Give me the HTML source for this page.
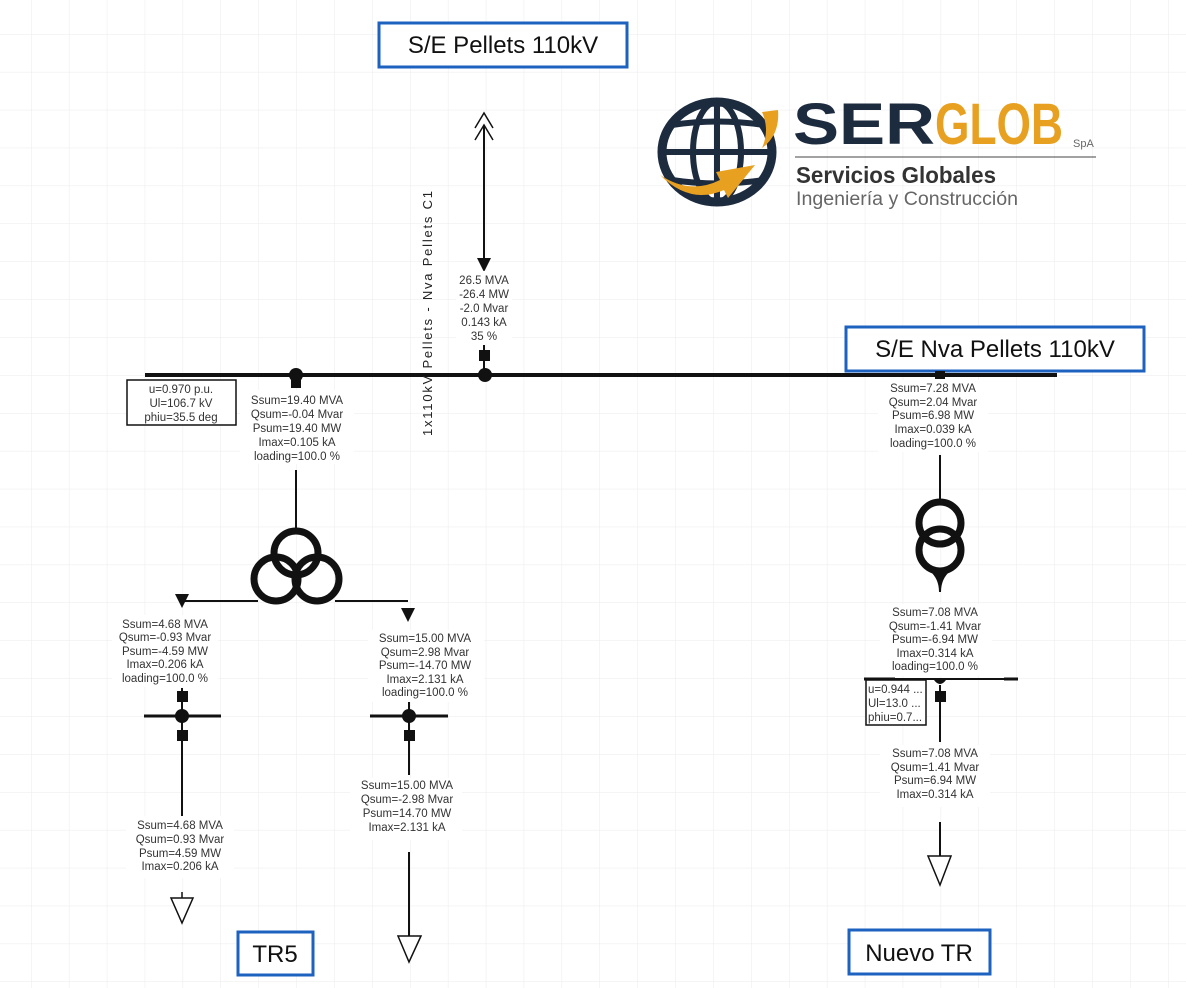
<!DOCTYPE html>
<html><head><meta charset="utf-8"><style>
html,body{margin:0;padding:0;background:#fff;}
svg{display:block;font-family:"Liberation Sans",sans-serif;}
.t{font-size:11.5px;fill:#333;text-anchor:middle;}
.lb{font-size:24px;fill:#111;text-anchor:middle;}
</style></head><body>
<svg width="1186" height="988" viewBox="0 0 1186 988" xmlns="http://www.w3.org/2000/svg">
<defs>
<pattern id="g" x="31" y="34" width="37.9" height="37.9" patternUnits="userSpaceOnUse">
<path d="M0 0V37.9M0 0H37.9" stroke="#ebebeb" stroke-width="1" fill="none"/>
</pattern>
</defs>
<rect width="1186" height="988" fill="url(#g)"/>

<!-- title boxes -->
<rect x="379" y="23" width="248" height="44" fill="#fff" stroke="#1e62c0" stroke-width="3"/>
<text x="503" y="53" class="lb">S/E Pellets 110kV</text>
<rect x="846" y="327" width="298" height="44" fill="#fff" stroke="#1e62c0" stroke-width="3"/>
<text x="995" y="357" class="lb">S/E Nva Pellets 110kV</text>
<rect x="238" y="932" width="75" height="43" fill="#fff" stroke="#1e62c0" stroke-width="3"/>
<text x="275" y="962" class="lb">TR5</text>
<rect x="849" y="930" width="141" height="44" fill="#fff" stroke="#1e62c0" stroke-width="3"/>
<text x="919" y="961" class="lb">Nuevo TR</text>

<!-- logo -->
<g>
<ellipse cx="717" cy="152" rx="55" ry="50" fill="none" stroke="#1d2b3f" stroke-width="9"/>
<ellipse cx="717" cy="152" rx="24" ry="50" fill="none" stroke="#1d2b3f" stroke-width="6"/>
<line x1="717" y1="102" x2="717" y2="202" stroke="#1d2b3f" stroke-width="6"/>
<line x1="662" y1="152" x2="772" y2="152" stroke="#1d2b3f" stroke-width="6"/>
<path d="M672 125 Q717 118 764 125 M672 180 Q717 187 764 180" fill="none" stroke="#1d2b3f" stroke-width="6"/>
<path d="M660 175 Q690 195 720 180 L716 172 L755 165 L728 198 L724 190 Q690 205 660 175Z" fill="#e8a020"/>
<path d="M762 112 L778 110 Q780 135 762 148 Q770 130 762 112Z" fill="#e8a020"/>
</g>
<text x="793" y="144" font-size="58" font-weight="bold" fill="#1d2b3f" textLength="142" lengthAdjust="spacingAndGlyphs">SER</text>
<text x="935" y="144" font-size="58" font-weight="bold" fill="#e8a020" textLength="128" lengthAdjust="spacingAndGlyphs">GLOB</text>
<text x="1073" y="147" font-size="11" fill="#666">SpA</text>
<line x1="795" y1="157" x2="1096" y2="157" stroke="#444" stroke-width="1"/>
<text x="796" y="183" font-size="23" font-weight="bold" fill="#333" textLength="200" lengthAdjust="spacingAndGlyphs">Servicios Globales</text>
<text x="796" y="205" font-size="19" fill="#666" textLength="222" lengthAdjust="spacingAndGlyphs">Ingeniería y Construcción</text>

<!-- top incoming line -->
<path d="M475 128 L484 113 L493 128 M475 140 L484 125 L493 140" fill="none" stroke="#111" stroke-width="1.5"/>
<line x1="484" y1="125" x2="484" y2="260" stroke="#111" stroke-width="2"/>
<path d="M477 258 L491 258 L484 272Z" fill="#111"/>
<rect x="456" y="271" width="56" height="72" fill="#fff"/>
<text class="t" x="484" y="284">26.5 MVA</text>
<text class="t" x="484" y="298">-26.4 MW</text>
<text class="t" x="484" y="312">-2.0 Mvar</text>
<text class="t" x="484" y="326">0.143 kA</text>
<text class="t" x="484" y="340">35 %</text>
<line x1="484" y1="345" x2="484" y2="375" stroke="#111" stroke-width="2"/>
<rect x="479" y="350" width="11" height="11" fill="#111"/>

<!-- main busbar -->
<line x1="145" y1="375" x2="1057" y2="375" stroke="#111" stroke-width="4"/>
<text transform="translate(432,436) rotate(-90)" font-size="13" fill="#222" textLength="245" lengthAdjust="spacing">1x110kV  Pellets  -  Nva  Pellets  C1</text>
<circle cx="485" cy="375" r="7" fill="#111"/>
<circle cx="296" cy="375" r="7" fill="#111"/>
<rect x="291" y="380" width="10" height="8" fill="#111"/>
<rect x="127" y="380" width="109" height="45" fill="#fff" stroke="#111" stroke-width="1.5"/>
<text class="t" x="181" y="393">u=0.970 p.u.</text>
<text class="t" x="181" y="407">Ul=106.7 kV</text>
<text class="t" x="181" y="421">phiu=35.5 deg</text>
<rect x="240" y="390" width="114" height="74" fill="#fff"/>
<text class="t" x="297" y="404">Ssum=19.40 MVA</text>
<text class="t" x="297" y="418">Qsum=-0.04 Mvar</text>
<text class="t" x="297" y="432">Psum=19.40 MW</text>
<text class="t" x="297" y="446">Imax=0.105 kA</text>
<text class="t" x="297" y="460">loading=100.0 %</text>
<line x1="296" y1="470" x2="296" y2="530" stroke="#111" stroke-width="2"/>

<!-- 3-winding transformer -->
<g fill="none" stroke="#111" stroke-width="7">
<circle cx="296" cy="553" r="22"/>
<circle cx="276" cy="579" r="22"/>
<circle cx="317" cy="579" r="22"/>
</g>
<path d="M258 601 H182 M335 601 H408" fill="none" stroke="#111" stroke-width="2"/>
<path d="M175 594 L189 594 L182 608Z" fill="#111"/>
<path d="M401 608 L415 608 L408 622Z" fill="#111"/>

<!-- left branch -->
<rect x="112" y="615" width="106" height="72" fill="#fff"/>
<text class="t" x="165" y="628">Ssum=4.68 MVA</text>
<text class="t" x="165" y="641">Qsum=-0.93 Mvar</text>
<text class="t" x="165" y="655">Psum=-4.59 MW</text>
<text class="t" x="165" y="668">Imax=0.206 kA</text>
<text class="t" x="165" y="682">loading=100.0 %</text>
<line x1="182" y1="688" x2="182" y2="818" stroke="#111" stroke-width="2"/>
<rect x="177" y="691" width="11" height="11" fill="#111"/>
<line x1="144" y1="716" x2="221" y2="716" stroke="#111" stroke-width="3"/>
<circle cx="182" cy="716" r="7" fill="#111"/>
<rect x="177" y="730" width="11" height="11" fill="#111"/>
<rect x="126" y="816" width="108" height="62" fill="#fff"/>
<text class="t" x="180" y="829">Ssum=4.68 MVA</text>
<text class="t" x="180" y="843">Qsum=0.93 Mvar</text>
<text class="t" x="180" y="857">Psum=4.59 MW</text>
<text class="t" x="180" y="870">Imax=0.206 kA</text>
<line x1="182" y1="892" x2="182" y2="898" stroke="#111" stroke-width="1.5"/>
<path d="M171 898 L193 898 L182 923Z" fill="#fff" stroke="#111" stroke-width="1.5"/>

<!-- right branch of TR5 -->
<rect x="368" y="630" width="116" height="72" fill="#fff"/>
<text class="t" x="425" y="642">Ssum=15.00 MVA</text>
<text class="t" x="425" y="656">Qsum=2.98 Mvar</text>
<text class="t" x="425" y="669">Psum=-14.70 MW</text>
<text class="t" x="425" y="683">Imax=2.131 kA</text>
<text class="t" x="425" y="696">loading=100.0 %</text>
<line x1="409" y1="702" x2="409" y2="775" stroke="#111" stroke-width="2"/>
<line x1="370" y1="716" x2="448" y2="716" stroke="#111" stroke-width="3"/>
<circle cx="409" cy="716" r="7" fill="#111"/>
<rect x="404" y="730" width="11" height="11" fill="#111"/>
<rect x="350" y="778" width="112" height="62" fill="#fff"/>
<text class="t" x="407" y="789">Ssum=15.00 MVA</text>
<text class="t" x="407" y="803">Qsum=-2.98 Mvar</text>
<text class="t" x="407" y="817">Psum=14.70 MW</text>
<text class="t" x="407" y="831">Imax=2.131 kA</text>
<line x1="409" y1="852" x2="409" y2="936" stroke="#111" stroke-width="2"/>
<path d="M398 936 L421 936 L409 962Z" fill="#fff" stroke="#111" stroke-width="1.5"/>

<!-- right side -->
<rect x="935" y="371" width="10" height="8" fill="#111"/>
<rect x="878" y="380" width="110" height="72" fill="#fff"/>
<text class="t" x="933" y="392">Ssum=7.28 MVA</text>
<text class="t" x="933" y="406">Qsum=2.04 Mvar</text>
<text class="t" x="933" y="419">Psum=6.98 MW</text>
<text class="t" x="933" y="433">Imax=0.039 kA</text>
<text class="t" x="933" y="447">loading=100.0 %</text>
<line x1="940" y1="455" x2="940" y2="503" stroke="#111" stroke-width="2"/>
<g fill="none" stroke="#111" stroke-width="7">
<circle cx="940" cy="523" r="21"/>
<circle cx="940" cy="550" r="21"/>
</g>
<path d="M930 570 Q940 578 940 592 Q940 578 950 570Z" fill="#111" stroke="#111" stroke-width="2"/>
<rect x="880" y="604" width="112" height="72" fill="#fff"/>
<text class="t" x="935" y="616">Ssum=7.08 MVA</text>
<text class="t" x="935" y="630">Qsum=-1.41 Mvar</text>
<text class="t" x="935" y="643">Psum=-6.94 MW</text>
<text class="t" x="935" y="657">Imax=0.314 kA</text>
<text class="t" x="935" y="670">loading=100.0 %</text>
<line x1="864" y1="679" x2="1017" y2="679" stroke="#111" stroke-width="2"/>
<line x1="864" y1="679" x2="895" y2="679" stroke="#111" stroke-width="3"/>
<line x1="1004" y1="679" x2="1018" y2="679" stroke="#111" stroke-width="3"/>
<path d="M934 680 Q940 688 946 680Z" fill="#111"/>
<rect x="866" y="680" width="60" height="45" fill="#fff" stroke="#111" stroke-width="1.5"/>
<text x="868" y="693" font-size="11.5" fill="#333">u=0.944 ...</text>
<text x="868" y="707" font-size="11.5" fill="#333">Ul=13.0 ...</text>
<text x="868" y="721" font-size="11.5" fill="#333">phiu=0.7...</text>
<line x1="940" y1="685" x2="940" y2="742" stroke="#111" stroke-width="2"/>
<rect x="935" y="691" width="11" height="11" fill="#111"/>
<rect x="880" y="745" width="110" height="62" fill="#fff"/>
<text class="t" x="935" y="757">Ssum=7.08 MVA</text>
<text class="t" x="935" y="771">Qsum=1.41 Mvar</text>
<text class="t" x="935" y="784">Psum=6.94 MW</text>
<text class="t" x="935" y="798">Imax=0.314 kA</text>
<line x1="940" y1="822" x2="940" y2="856" stroke="#111" stroke-width="2"/>
<path d="M928 856 L951 856 L940 885Z" fill="#fff" stroke="#111" stroke-width="1.5"/>
</svg>
</body></html>
